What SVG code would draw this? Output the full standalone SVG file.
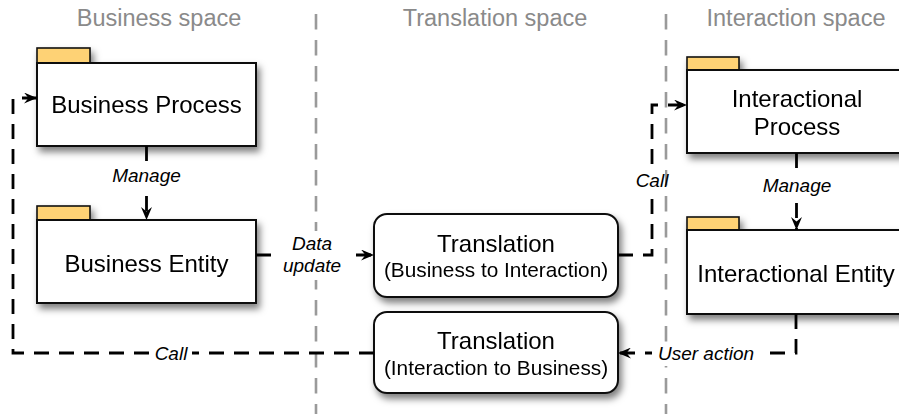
<svg xmlns="http://www.w3.org/2000/svg" width="899" height="414" viewBox="0 0 899 414">
<style>
.hdr{font-family:"Liberation Sans",Arial,sans-serif;font-size:23.5px;fill:#8a8a8a;text-anchor:middle}
.div{stroke:#9a9a9a;stroke-width:2.6;stroke-dasharray:15.5 10.5;fill:none}
.box{fill:#fff;stroke:#111;stroke-width:2}
.tab{fill:#fed275;stroke:#111;stroke-width:1.6}
.lbl{font-family:"Liberation Sans",Arial,sans-serif;font-size:24px;fill:#000;text-anchor:middle}
.sub{font-family:"Liberation Sans",Arial,sans-serif;font-size:20.8px;fill:#000;text-anchor:middle}
.con{fill:none;stroke:#000;stroke-width:2.8;stroke-dasharray:15 10}
.cl{font-family:"Liberation Sans",Arial,sans-serif;font-size:19px;font-style:italic;fill:#000;text-anchor:middle}
.bg{fill:#fff}
</style>
<defs>
<filter id="sh" x="-10%" y="-20%" width="130%" height="150%">
<feDropShadow dx="3" dy="5" stdDeviation="3.5" flood-color="#000" flood-opacity="0.5"/>
</filter>
<marker id="ar" viewBox="0 0 13 11" markerWidth="13" markerHeight="11" refX="13" refY="5.5" orient="auto" markerUnits="userSpaceOnUse">
<path d="M0,0 L13,5.5 L0,11 L4.5,5.5 Z" fill="#000"/>
</marker>
</defs>
<g id="headers">
<text class="hdr" x="159" y="26">Business space</text>
<text class="hdr" x="495" y="26">Translation space</text>
<text class="hdr" x="796" y="26">Interaction space</text>
</g>
<g id="dividers">
<line class="div" x1="316" y1="14" x2="316" y2="414"/>
<line class="div" x1="666" y1="14" x2="666" y2="414"/>
</g>
<g id="business-process" filter="url(#sh)">
<rect class="tab" x="37" y="48" width="53" height="15"/>
<rect class="box" x="37" y="63" width="219" height="83"/>
<text class="lbl" x="146.5" y="113">Business Process</text>
</g>
<g id="business-entity" filter="url(#sh)">
<rect class="tab" x="37" y="206" width="53" height="14"/>
<rect class="box" x="37" y="220" width="219" height="83"/>
<text class="lbl" x="146.5" y="272">Business Entity</text>
</g>
<g id="translation-b2i" filter="url(#sh)">
<rect class="box" x="374" y="214" width="244" height="83" rx="13"/>
<text class="lbl" x="496" y="252">Translation</text>
<text class="sub" x="496" y="277">(Business to Interaction)</text>
</g>
<g id="translation-i2b" filter="url(#sh)">
<rect class="box" x="374" y="312" width="244" height="81" rx="13"/>
<text class="lbl" x="496" y="349">Translation</text>
<text class="sub" x="496" y="375">(Interaction to Business)</text>
</g>
<g id="interactional-process" filter="url(#sh)">
<rect class="tab" x="687" y="57" width="52" height="13"/>
<rect class="box" x="687" y="70" width="219" height="83"/>
<text class="lbl" x="797" y="107">Interactional</text>
<text class="lbl" x="797" y="135">Process</text>
</g>
<g id="interactional-entity" filter="url(#sh)">
<rect class="tab" x="687" y="217" width="52" height="13"/>
<rect class="box" x="687" y="230" width="219" height="84"/>
<text class="lbl" x="796" y="282">Interactional Entity</text>
</g>
<g id="connectors">
<path class="con" d="M146.5,146 V220" marker-end="url(#ar)"/>
<path class="con" d="M256,255 H374" marker-end="url(#ar)"/>
<path class="con" d="M618,255 H652 V105 H687" marker-end="url(#ar)"/>
<path class="con" d="M796.5,153 V230" marker-end="url(#ar)"/>
<path class="con" d="M796,314 V353 H618" marker-end="url(#ar)"/>
<path class="con" d="M374,353 H13 V98 H37" marker-end="url(#ar)"/>
<rect class="bg" x="110" y="163" width="74" height="27"/>
<text class="cl" x="146.5" y="182">Manage</text>
<rect class="bg" x="280" y="231" width="66" height="49"/>
<text class="cl" x="312" y="250">Data</text>
<text class="cl" x="312" y="272">update</text>
<rect class="bg" x="634" y="170" width="31" height="22"/>
<text class="cl" x="652" y="187">Call</text>
<rect class="bg" x="757" y="172" width="80" height="26"/>
<text class="cl" x="797" y="192">Manage</text>
<rect class="bg" x="652" y="342" width="110" height="24"/>
<text class="cl" x="706" y="360">User action</text>
<rect class="bg" x="150" y="343" width="42" height="21"/>
<text class="cl" x="171" y="360">Call</text>
</g>
</svg>
